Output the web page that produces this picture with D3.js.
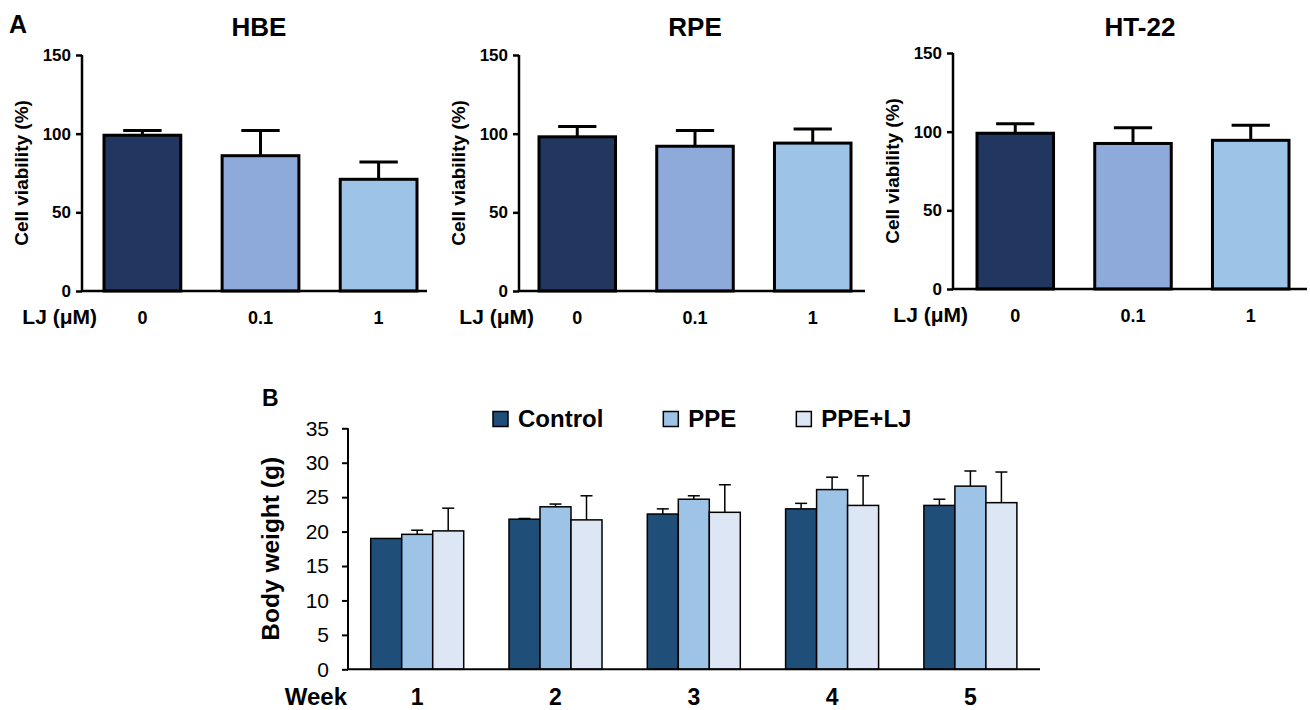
<!DOCTYPE html>
<html>
<head>
<meta charset="utf-8">
<script src="https://cdn.jsdelivr.net/npm/d3@7"></script>
<style>
  body { margin: 0; background: #fff; }
  svg { display: block; font-family: "Liberation Sans", Arial, sans-serif; }
</style>
</head>
<body>
<svg width="1310" height="710"></svg>
<script>
// ---- panel A data: cell viability (%) ----
var doseLabels = ["0", "0.1", "1"];
var hbeMean  = [99, 86, 71];
var hbeErr   = [3, 16, 11];
var rpeMean  = [98, 92, 94];
var rpeErr   = [6.5, 10, 9];
var ht22Mean = [99, 92.5, 94.5];
var ht22Err  = [6, 10, 9.5];
var viabTicks = [0, 50, 100, 150];

// ---- panel B data: body weight (g) ----
var weeks = ["1", "2", "3", "4", "5"];
var groups = ["Control", "PPE", "PPE+LJ"];
var controlMean = [19.0, 21.8, 22.55, 23.3, 23.8];
var controlErr  = [0, 0.1, 0.75, 0.8, 0.9];
var ppeMean     = [19.6, 23.6, 24.7, 26.1, 26.6];
var ppeErr      = [0.6, 0.4, 0.5, 1.8, 2.2];
var ppeLjMean   = [20.1, 21.7, 22.8, 23.8, 24.2];
var ppeLjErr    = [3.3, 3.5, 4.0, 4.3, 4.45];
var weightTicks = [0, 5, 10, 15, 20, 25, 30, 35];

var svg = d3.select("svg");

var doseColors  = ["#22375f", "#8eaadb", "#9dc3e6"];
var groupColors = ["#1f4e79", "#9dc3e6", "#dde6f4"];

// panel letters
svg.append("text").attr("x", 9).attr("y", 33)
   .attr("font-size", 25).attr("font-weight", "bold").text("A");
svg.append("text").attr("x", 262).attr("y", 406)
   .attr("font-size", 23).attr("font-weight", "bold").text("B");

// ---------- panel A ----------
var panelsA = [
  {title: "HBE",   mean: hbeMean,  err: hbeErr,  axisX: 82,  band: [104, 417], axisEnd: 427,  top: 55, bottom: 291, titleX: 259},
  {title: "RPE",   mean: rpeMean,  err: rpeErr,  axisX: 519, band: [539, 851], axisEnd: 865,  top: 55, bottom: 291, titleX: 695},
  {title: "HT-22", mean: ht22Mean, err: ht22Err, axisX: 953, band: [977, 1289], axisEnd: 1307, top: 53, bottom: 289, titleX: 1140}
];

panelsA.forEach(function(p){
  var g = svg.append("g");

  var x = d3.scaleBand().domain(doseLabels).range(p.band)
            .paddingInner(0.35).paddingOuter(0);
  var y = d3.scaleLinear().domain([0, 150]).range([p.bottom, p.top]);

  var rows = doseLabels.map(function(d, i){
    return {dose: d, mean: p.mean[i], err: p.err[i], color: doseColors[i]};
  });

  // error bars (upper only), drawn before the bars
  var cap = x.bandwidth() / 2;
  rows.forEach(function(r){
    var cx = x(r.dose) + x.bandwidth() / 2;
    g.append("line").attr("x1", cx).attr("x2", cx)
     .attr("y1", y(r.mean)).attr("y2", y(r.mean + r.err))
     .attr("stroke", "#000").attr("stroke-width", 3);
    g.append("line").attr("x1", cx - cap / 2).attr("x2", cx + cap / 2)
     .attr("y1", y(r.mean + r.err)).attr("y2", y(r.mean + r.err))
     .attr("stroke", "#000").attr("stroke-width", 3);
  });

  g.selectAll("rect.bar").data(rows).enter().append("rect")
   .attr("class", "bar")
   .attr("x", function(d){ return x(d.dose); })
   .attr("y", function(d){ return y(d.mean); })
   .attr("width", x.bandwidth())
   .attr("height", function(d){ return y(0) - y(d.mean); })
   .attr("fill", function(d){ return d.color; })
   .attr("stroke", "#000").attr("stroke-width", 3);

  // y axis
  var yAxis = g.append("g").attr("transform", "translate(" + p.axisX + ",0)")
               .call(d3.axisLeft(y).tickValues(viabTicks).tickSize(6).tickPadding(5));
  yAxis.select(".domain").attr("stroke-width", 2.5).attr("d", "M0," + p.top + "V" + p.bottom);
  yAxis.selectAll(".tick line").attr("stroke-width", 2.5);
  yAxis.selectAll(".tick text").attr("font-size", 17).attr("font-weight", "bold")
       .attr("font-family", "Liberation Sans, Arial, sans-serif").attr("fill", "#000");

  // x baseline
  g.append("line").attr("x1", p.axisX - 1).attr("x2", p.axisEnd)
   .attr("y1", y(0)).attr("y2", y(0))
   .attr("stroke", "#000").attr("stroke-width", 2.5);

  // x labels
  g.selectAll("text.dose").data(rows).enter().append("text")
   .attr("class", "dose")
   .attr("x", function(d){ return x(d.dose) + x.bandwidth() / 2; })
   .attr("y", p.bottom + 33)
   .attr("text-anchor", "middle").attr("font-size", 18).attr("font-weight", "bold")
   .text(function(d){ return d.dose; });
  g.append("text").attr("x", p.axisX + 15).attr("y", p.bottom + 33)
   .attr("text-anchor", "end").attr("font-size", 21).attr("font-weight", "bold")
   .text("LJ (\u03bcM)");

  // title
  g.append("text").attr("x", p.titleX).attr("y", 36)
   .attr("text-anchor", "middle").attr("font-size", 26).attr("font-weight", "bold")
   .text(p.title);

  // y label
  g.append("text")
   .attr("transform", "translate(" + (p.axisX - 54) + "," + ((p.top + p.bottom) / 2) + ") rotate(-90)")
   .attr("text-anchor", "middle").attr("font-size", 19).attr("font-weight", "bold")
   .text("Cell viability (%)");
});

// ---------- panel B ----------
var b = {axisX: 348, top: 428.3, bottom: 669.3, band: [370.7, 1016.9], axisEnd: 1040};
var gb = svg.append("g");

var x0 = d3.scaleBand().domain(weeks).range(b.band).paddingInner(0.3275).paddingOuter(0);
var x1 = d3.scaleBand().domain(groups).range([0, x0.bandwidth()]).padding(0);
var yB = d3.scaleLinear().domain([0, 35]).range([b.bottom, b.top]);

var means = [controlMean, ppeMean, ppeLjMean];
var errs  = [controlErr, ppeErr, ppeLjErr];

var cells = [];
weeks.forEach(function(w, wi){
  groups.forEach(function(gname, gi){
    cells.push({week: w, group: gname, mean: means[gi][wi], err: errs[gi][wi], color: groupColors[gi]});
  });
});

cells.forEach(function(c){
  if (c.err <= 0) return;
  var cx = x0(c.week) + x1(c.group) + x1.bandwidth() / 2;
  gb.append("line").attr("x1", cx).attr("x2", cx)
    .attr("y1", yB(c.mean)).attr("y2", yB(c.mean + c.err))
    .attr("stroke", "#000").attr("stroke-width", 1.5);
  gb.append("line").attr("x1", cx - 6).attr("x2", cx + 6)
    .attr("y1", yB(c.mean + c.err)).attr("y2", yB(c.mean + c.err))
    .attr("stroke", "#000").attr("stroke-width", 1.5);
});

gb.selectAll("rect.wbar").data(cells).enter().append("rect")
  .attr("class", "wbar")
  .attr("x", function(d){ return x0(d.week) + x1(d.group); })
  .attr("y", function(d){ return yB(d.mean); })
  .attr("width", x1.bandwidth())
  .attr("height", function(d){ return yB(0) - yB(d.mean); })
  .attr("fill", function(d){ return d.color; })
  .attr("stroke", "#000").attr("stroke-width", 1.5);

var yAxisB = gb.append("g").attr("transform", "translate(" + b.axisX + ",0)")
               .call(d3.axisLeft(yB).tickValues(weightTicks).tickSize(6).tickPadding(13));
yAxisB.select(".domain").attr("stroke-width", 2).attr("d", "M0," + b.top + "V" + b.bottom);
yAxisB.selectAll(".tick line").attr("stroke-width", 2);
yAxisB.selectAll(".tick text").attr("font-size", 21)
      .attr("font-family", "Liberation Sans, Arial, sans-serif").attr("fill", "#000");

gb.append("line").attr("x1", b.axisX - 1).attr("x2", b.axisEnd)
  .attr("y1", yB(0)).attr("y2", yB(0))
  .attr("stroke", "#000").attr("stroke-width", 2);

gb.selectAll("text.week").data(weeks).enter().append("text")
  .attr("class", "week")
  .attr("x", function(d){ return x0(d) + x0.bandwidth() / 2; })
  .attr("y", 705)
  .attr("text-anchor", "middle").attr("font-size", 23).attr("font-weight", "bold")
  .text(function(d){ return d; });
gb.append("text").attr("x", b.axisX - 1).attr("y", 705)
  .attr("text-anchor", "end").attr("font-size", 24).attr("font-weight", "bold")
  .text("Week");

gb.append("text")
  .attr("transform", "translate(279," + ((b.top + b.bottom) / 2) + ") rotate(-90)")
  .attr("text-anchor", "middle").attr("font-size", 24.5).attr("font-weight", "bold")
  .text("Body weight (g)");

// legend
var lx = 493;
groups.forEach(function(gname, gi){
  gb.append("rect").attr("x", lx).attr("y", 411.5).attr("width", 15).attr("height", 15)
    .attr("fill", groupColors[gi]).attr("stroke", "#000").attr("stroke-width", 1.5);
  var t = gb.append("text").attr("x", lx + 25).attr("y", 427)
    .attr("font-size", 24).attr("font-weight", "bold").text(gname);
  lx += 25 + t.node().getComputedTextLength() + 60;
});
</script>
</body>
</html>
